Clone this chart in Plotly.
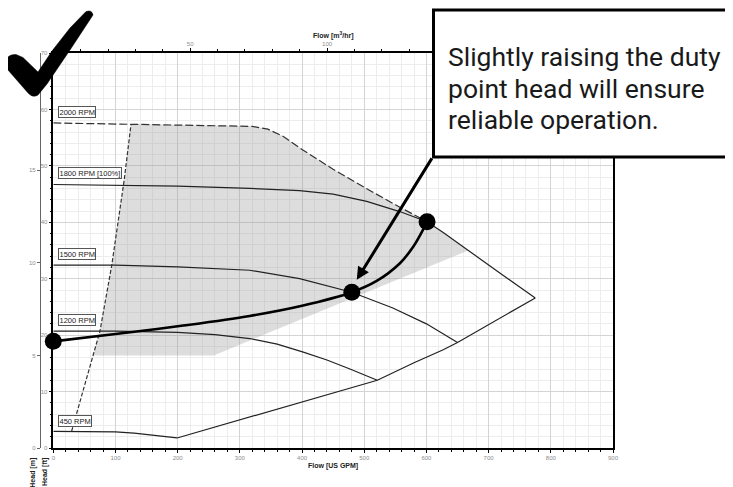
import plotly.graph_objects as go

# ---------------- data ----------------
flow_2000 = [0, 125, 250, 320, 345, 370, 400, 450, 500, 550, 601]
head_2000 = [57.6, 57.4, 57.2, 57.0, 56.5, 55.2, 52.9, 49.4, 46.2, 43.1, 40.1]

flow_1800 = [0, 100, 200, 316, 396, 450, 504, 557, 601, 627, 667, 718, 775]
head_1800 = [46.7, 46.6, 46.4, 46.0, 45.6, 45.0, 43.7, 41.9, 40.1, 38.2, 35.0, 31.0, 26.6]

flow_1500 = [0, 100, 200, 316, 396, 480, 546, 600, 650]
head_1500 = [32.4, 32.4, 32.1, 31.5, 30.0, 27.6, 24.8, 22.0, 18.7]

flow_1200 = [0, 100, 200, 260, 316, 360, 402, 440, 477, 521]
head_1200 = [20.7, 20.7, 20.5, 20.1, 19.4, 18.4, 17.0, 15.6, 14.0, 12.0]

flow_450 = [0, 50, 100, 130, 150, 175, 199]
head_450 = [2.96, 2.95, 2.85, 2.65, 2.43, 2.15, 1.78]

flow_min = [29.5, 48, 62, 75, 94, 114, 125]
head_min = [3.0, 10.2, 15.6, 20.7, 32.4, 47.5, 57.4]

flow_end = [199, 316, 400, 501, 521, 580, 627, 650, 702, 775]
head_end = [1.78, 5.5, 8.1, 11.4, 12.0, 15.1, 17.4, 18.7, 22.0, 26.6]

flow_sys = [0, 100, 209, 316, 400, 480, 520, 557, 579, 597, 601]
head_sys = [18.9, 20.2, 21.7, 23.4, 25.2, 27.6, 29.6, 32.7, 35.7, 39.2, 40.1]

flow_duty = [0, 480, 601]
head_duty = [18.9, 27.6, 40.1]

flow_shade = [125, 250, 320, 345, 370, 400, 450, 500, 550, 601, 627, 667, 258, 64, 75, 94, 114, 125]
head_shade = [57.4, 57.2, 57.0, 56.5, 55.2, 52.9, 49.4, 46.2, 43.1, 40.1, 38.2, 35.0, 16.4, 16.4, 20.7, 32.4, 47.5, 57.4]

rpm_labels = ["2000 RPM", "1800 RPM [100%]", "1500 RPM", "1200 RPM", "450 RPM"]
rpm_label_head = [59.5, 48.8, 34.4, 22.7, 4.7]

gpm_ticks = [0, 100, 200, 300, 400, 500, 600, 700, 800, 900]
m3h_ticks = [50, 100, 150, 200]
m3h_tick_text = ["50", "100", "", ""]   # 150 / 200 are hidden behind the callout box
ft_ticks = [0, 10, 20, 30, 40, 50, 60, 70]
m_ticks = [0, 5, 10, 15, 20]

callout_lines = ["Slightly raising the duty", "point head will ensure", "reliable operation."]

GPM_TO_M3H = 0.2271247
FT_TO_M = 0.3048

# ---------------- layout helpers (screen pixels -> paper) ----------------
OFF = 8                      # page body margin
W, H = 733 - OFF, 487 - OFF
L, R, T, B = 40 - OFF, 120, 53 - OFF, 39
PW = W - L - R
PH = H - T - B


def px(x):
    return (x - OFF - L) / PW


def py(y):
    return (H - B - (y - OFF)) / PH


LINE = "#222222"
fig = go.Figure()

fig.add_trace(go.Scatter(x=flow_shade, y=head_shade, mode="lines", fill="toself",
                         fillcolor="rgba(150,150,150,0.32)", line=dict(width=0),
                         hoverinfo="skip"))
fig.add_trace(go.Scatter(x=flow_2000, y=head_2000, mode="lines",
                         line=dict(color="#333333", width=1.2, dash="8px,3px")))
fig.add_trace(go.Scatter(x=flow_min, y=head_min, mode="lines",
                         line=dict(color="#333333", width=1.2, dash="4px,2px")))
for fx, fy in [(flow_1800, head_1800), (flow_1500, head_1500), (flow_1200, head_1200),
               (flow_450, head_450), (flow_end, head_end)]:
    fig.add_trace(go.Scatter(x=fx, y=fy, mode="lines", line=dict(color=LINE, width=1.2)))
fig.add_trace(go.Scatter(x=flow_sys, y=head_sys, mode="lines", line=dict(color="black", width=2.6),
                         line_shape="spline"))
fig.add_trace(go.Scatter(x=flow_duty, y=head_duty, mode="markers", cliponaxis=False,
                         marker=dict(color="black", size=17)))
# dummy traces to activate secondary axes
fig.add_trace(go.Scatter(x=[None], y=[None], xaxis="x2", yaxis="y", hoverinfo="skip"))
fig.add_trace(go.Scatter(x=[None], y=[None], xaxis="x", yaxis="y2", hoverinfo="skip"))

tickfont = dict(size=6, color="#8c8c8c", family="Arial")
fig.update_layout(
    width=W, height=H, margin=dict(l=L, r=R, t=T, b=B),
    paper_bgcolor="white", plot_bgcolor="white", showlegend=False,
    xaxis=dict(domain=[px(53.3), 1], range=[0, 900], tickvals=gpm_ticks,
               showgrid=True, gridcolor="#d4d4d4", gridwidth=1, zeroline=False,
               showline=True, linecolor="black", linewidth=1.5, mirror=True,
               ticks="outside", ticklen=3, tickcolor="black", tickfont=tickfont,
               minor=dict(dtick=20, tick0=0, showgrid=True, gridcolor="#ededed",
                          ticks="outside", ticklen=2, tickcolor="black")),
    xaxis2=dict(overlaying="x", side="top", anchor="y", range=[0, 900 * GPM_TO_M3H],
                tickvals=m3h_ticks, ticktext=m3h_tick_text, showgrid=False, zeroline=False,
                showline=True, linecolor="black", linewidth=1.5,
                ticks="outside", ticklen=3, tickcolor="black", tickfont=tickfont,
                minor=dict(dtick=10, tick0=0, ticks="outside", ticklen=2, tickcolor="black", showgrid=False)),
    yaxis=dict(range=[0, 70], tickvals=ft_ticks, showgrid=True, gridcolor="#d4d4d4",
               zeroline=False, showline=True, linecolor="black", linewidth=1.5, mirror=True,
               ticks="outside", ticklen=3, tickcolor="black", tickfont=tickfont,
               minor=dict(dtick=2, tick0=0, showgrid=True, gridcolor="#ededed",
                          ticks="outside", ticklen=2, tickcolor="black")),
    yaxis2=dict(overlaying="y", anchor="free", position=0, side="left",
                range=[0, 70 * FT_TO_M], tickvals=m_ticks, showgrid=False, zeroline=False,
                showline=True, linecolor="#666666", linewidth=1.2,
                ticks="outside", ticklen=3, tickcolor="#666666", tickfont=tickfont),
)

annotations = []
for txt, hv in zip(rpm_labels, rpm_label_head):
    annotations.append(dict(x=7.5, y=hv, xref="x", yref="y", text=txt, showarrow=False,
                            xanchor="left", yanchor="middle",
                            font=dict(size=7.5, family="Arial", color="#222222"),
                            bgcolor="white", bordercolor="#555555", borderwidth=1, borderpad=0.5))

annotations += [
    dict(x=px(333), y=py(466), xref="paper", yref="paper", text="<b>Flow [US GPM]</b>",
         showarrow=False, xanchor="center", yanchor="middle",
         font=dict(size=7, family="Arial", color="#222222")),
    dict(x=px(333), y=py(36), xref="paper", yref="paper", text="<b>Flow [m<sup>3</sup>/hr]</b>",
         showarrow=False, xanchor="center", yanchor="middle",
         font=dict(size=7, family="Arial", color="#222222")),
    dict(x=px(32.7), y=py(456), xref="paper", yref="paper", text="<b>Head [m]</b>",
         showarrow=False, xanchor="center", yanchor="top", textangle=-90,
         font=dict(size=7, family="Arial", color="#222222")),
    dict(x=px(45), y=py(456), xref="paper", yref="paper", text="<b>Head [ft]</b>",
         showarrow=False, xanchor="center", yanchor="top", textangle=-90,
         font=dict(size=7, family="Arial", color="#222222")),
    dict(x=488, y=29.8, xref="x", yref="y", text="", showarrow=True,
         ax=76, ay=-123, arrowhead=2, arrowsize=0.85, arrowwidth=3, arrowcolor="black",
         standoff=0, startstandoff=0),
]
for line_txt, yc in zip(callout_lines, [56, 88, 119.5]):
    annotations.append(dict(x=px(446), y=py(yc), xref="paper", yref="paper", text=line_txt,
                            showarrow=False, xanchor="left", yanchor="middle", align="left",
                            font=dict(size=26.5, family="Roboto", color="#1a1a1a")))
fig.update_layout(annotations=annotations)

# callout box
fig.add_shape(type="rect", xref="paper", yref="paper",
              x0=px(433.5), x1=px(760), y0=py(157), y1=py(10),
              line=dict(color="black", width=3), fillcolor="white", layer="above")

# check mark
cmds = [("M", [(6, 62)]), ("Q", [(7, 54), (16, 54.5)]), ("L", [(23, 57.5)]), ("L", [(38, 72)]),
        ("L", [(52, 51)]), ("L", [(70, 28)]), ("L", [(86, 11.5)]), ("Q", [(92, 9.5), (93, 15)]),
        ("L", [(70, 50)]), ("L", [(47, 84)]), ("L", [(38, 95)]), ("Q", [(33, 98), (28.5, 93.5)]),
        ("L", [(8, 70)]), ("Q", [(5, 66), (6, 62)])]
path = ""
for c, pts in cmds:
    path += c + " " + " ".join(f"{px(a):.5f},{py(b):.5f}" for a, b in pts) + " "
path += "Z"
fig.add_shape(type="path", xref="paper", yref="paper", path=path,
              fillcolor="black", line=dict(color="black", width=0.5), layer="above")

fig.write_html("out.html")
